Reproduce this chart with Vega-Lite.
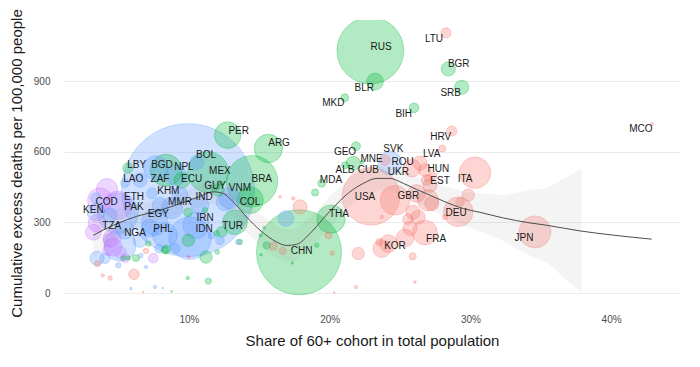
{
  "$schema": "https://vega.github.io/schema/vega-lite/v6.json",
  "width": 616,
  "height": 286,
  "autosize": {"type": "none"},
  "padding": {"left": 64, "top": 20, "right": 20, "bottom": 61},
  "config": {
    "font": "Liberation Sans",
    "view": {"stroke": null},
    "axis": {"domain": false, "ticks": false, "labelColor": "#4d4d4d", "labelFontSize": 10, "titleColor": "#1a1a1a", "titleFontSize": 15, "titleFontWeight": "normal", "gridColor": "#ebebeb", "gridWidth": 1}
  },
  "datasets": {
    "pts": [
      {"iso":"LTU","g":"H","x":28.27,"y":1105,"d":35,"lx":27.41,"ly":1081},
      {"iso":"HRV","g":"H","x":28.67,"y":688,"d":35,"lx":27.89,"ly":663},
      {"iso":"LVA","g":"H","x":28.0,"y":614,"d":17,"lx":27.25,"ly":589},
      {"iso":"MCO","g":"H","x":42.91,"y":718,"d":3,"lx":42.12,"ly":695},
      {"iso":"JPN","g":"H","x":34.59,"y":260,"d":342,"lx":33.81,"ly":234},
      {"iso":"ITA","g":"H","x":30.33,"y":511,"d":331,"lx":29.62,"ly":484},
      {"iso":"DEU","g":"H","x":29.14,"y":345,"d":294,"lx":28.98,"ly":340},
      {"iso":"FRA","g":"H","x":26.77,"y":257,"d":207,"lx":27.56,"ly":231},
      {"iso":"GBR","g":"H","x":24.64,"y":394,"d":294,"lx":25.59,"ly":413},
      {"iso":"USA","g":"H","x":22.94,"y":411,"d":1115,"lx":22.51,"ly":409},
      {"iso":"KOR","g":"H","x":24.17,"y":210,"d":106,"lx":24.64,"ly":200},
      {"iso":"EST","g":"H","x":26.99,"y":488,"d":17,"lx":27.84,"ly":475},
      {"iso":"HUN","g":"H","x":26.77,"y":522,"d":55,"lx":27.72,"ly":529},
      {"iso":"ROU","g":"H","x":25.85,"y":531,"d":106,"lx":25.19,"ly":557},
      {"iso":"SVK","g":"H","x":23.93,"y":565,"d":38,"lx":24.52,"ly":610},
      {"iso":"UKR","g":"LM","x":24.29,"y":552,"d":190,"lx":24.88,"ly":515},
      {"iso":"MNE","g":"UM","x":22.3,"y":556,"d":4,"lx":22.98,"ly":568},
      {"iso":"CUB","g":"UM","x":21.68,"y":551,"d":68,"lx":22.74,"ly":522},
      {"iso":"ALB","g":"UM","x":21.09,"y":543,"d":17,"lx":21.09,"ly":522},
      {"iso":"GEO","g":"UM","x":21.87,"y":624,"d":26,"lx":21.09,"ly":600},
      {"iso":"MDA","g":"UM","x":19.43,"y":466,"d":20,"lx":20.09,"ly":480},
      {"iso":"THA","g":"UM","x":20.09,"y":314,"d":270,"lx":20.66,"ly":335},
      {"iso":"BIH","g":"UM","x":25.99,"y":787,"d":32,"lx":25.26,"ly":762},
      {"iso":"SRB","g":"UM","x":29.38,"y":874,"d":68,"lx":28.6,"ly":849},
      {"iso":"BGR","g":"UM","x":28.43,"y":952,"d":68,"lx":29.17,"ly":972},
      {"iso":"MKD","g":"UM","x":21.07,"y":830,"d":21,"lx":20.26,"ly":806},
      {"iso":"BLR","g":"UM","x":23.22,"y":898,"d":95,"lx":22.46,"ly":870},
      {"iso":"RUS","g":"UM","x":22.89,"y":1030,"d":1500,"lx":23.65,"ly":1047},
      {"iso":"CHN","g":"UM","x":17.82,"y":173,"d":2432,"lx":18.01,"ly":179},
      {"iso":"PER","g":"UM","x":12.75,"y":671,"d":237,"lx":13.53,"ly":689},
      {"iso":"ARG","g":"UM","x":15.64,"y":614,"d":270,"lx":16.4,"ly":636},
      {"iso":"BRA","g":"UM","x":14.48,"y":475,"d":888,"lx":15.17,"ly":485},
      {"iso":"MEX","g":"UM","x":11.35,"y":514,"d":558,"lx":12.2,"ly":519},
      {"iso":"BOL","g":"LM","x":10.57,"y":556,"d":68,"lx":11.21,"ly":585},
      {"iso":"NPL","g":"LM","x":9.08,"y":501,"d":150,"lx":9.64,"ly":535},
      {"iso":"ZAF","g":"UM","x":8.37,"y":522,"d":342,"lx":7.94,"ly":484},
      {"iso":"BGD","g":"LM","x":7.65,"y":531,"d":207,"lx":8.08,"ly":543},
      {"iso":"ECU","g":"UM","x":9.5,"y":480,"d":85,"lx":10.19,"ly":484},
      {"iso":"LBY","g":"UM","x":5.66,"y":531,"d":38,"lx":6.28,"ly":543},
      {"iso":"LAO","g":"LM","x":5.45,"y":467,"d":26,"lx":6.04,"ly":484},
      {"iso":"KHM","g":"LM","x":7.37,"y":424,"d":38,"lx":8.53,"ly":434},
      {"iso":"GUY","g":"UM","x":12.2,"y":467,"d":7,"lx":11.85,"ly":454},
      {"iso":"VNM","g":"LM","x":12.91,"y":403,"d":152,"lx":13.62,"ly":446},
      {"iso":"IND","g":"LM","x":9.93,"y":437,"d":5936,"lx":11.07,"ly":409},
      {"iso":"COL","g":"UM","x":14.34,"y":394,"d":237,"lx":14.34,"ly":385},
      {"iso":"MMR","g":"LM","x":8.79,"y":360,"d":152,"lx":9.36,"ly":386},
      {"iso":"ETH","g":"L","x":4.95,"y":373,"d":270,"lx":6.09,"ly":409},
      {"iso":"PAK","g":"LM","x":4.95,"y":339,"d":558,"lx":6.09,"ly":366},
      {"iso":"COD","g":"L","x":3.67,"y":394,"d":207,"lx":4.15,"ly":387},
      {"iso":"KEN","g":"LM","x":3.39,"y":343,"d":106,"lx":3.2,"ly":352},
      {"iso":"EGY","g":"LM","x":7.58,"y":301,"d":237,"lx":7.82,"ly":334},
      {"iso":"TZA","g":"L","x":4.53,"y":233,"d":106,"lx":4.51,"ly":284},
      {"iso":"NGA","g":"LM","x":5.1,"y":203,"d":342,"lx":6.16,"ly":257},
      {"iso":"PHL","g":"LM","x":8.29,"y":246,"d":207,"lx":8.15,"ly":271},
      {"iso":"IRN","g":"LM","x":10.5,"y":288,"d":237,"lx":11.14,"ly":318},
      {"iso":"IDN","g":"LM","x":10.07,"y":233,"d":608,"lx":11.07,"ly":271},
      {"iso":"TUR","g":"UM","x":13.27,"y":301,"d":207,"lx":13.1,"ly":284},
      {"g":"UM","x":11.21,"y":153,"d":52},
      {"g":"UM","x":11.37,"y":51,"d":13},
      {"g":"UM","x":12.01,"y":174,"d":7},
      {"g":"UM","x":9.91,"y":64,"d":4},
      {"g":"UM","x":8.77,"y":7,"d":1},
      {"g":"UM","x":8.29,"y":182,"d":17},
      {"g":"UM","x":15.52,"y":203,"d":17},
      {"g":"UM","x":15.12,"y":163,"d":2.4},
      {"g":"UM","x":17.34,"y":128,"d":2.4},
      {"g":"UM","x":19.08,"y":203,"d":7},
      {"g":"UM","x":15.1,"y":245,"d":4},
      {"g":"UM","x":5.33,"y":149,"d":7},
      {"g":"UM","x":5.69,"y":149,"d":7},
      {"g":"UM","x":6.23,"y":149,"d":17},
      {"g":"UM","x":7.11,"y":210,"d":10},
      {"g":"UM","x":8.37,"y":185,"d":26},
      {"g":"UM","x":9.95,"y":224,"d":52},
      {"g":"UM","x":11.14,"y":352,"d":10},
      {"g":"UM","x":11.97,"y":253,"d":10},
      {"g":"UM","x":18.96,"y":427,"d":17},
      {"g":"UM","x":13.62,"y":217,"d":10},
      {"g":"UM","x":12.32,"y":260,"d":38},
      {"g":"UM","x":9.93,"y":343,"d":26},
      {"g":"UM","x":15.35,"y":278,"d":2.4},
      {"g":"UM","x":12.06,"y":437,"d":52},
      {"g":"LM","x":7.58,"y":26,"d":4},
      {"g":"LM","x":8.13,"y":21,"d":1},
      {"g":"LM","x":5.88,"y":19,"d":2.4},
      {"g":"LM","x":4.98,"y":118,"d":10},
      {"g":"LM","x":6.57,"y":159,"d":7},
      {"g":"LM","x":6.94,"y":111,"d":4},
      {"g":"LM","x":7.87,"y":189,"d":26},
      {"g":"LM","x":3.46,"y":148,"d":68},
      {"g":"LM","x":4.03,"y":148,"d":38},
      {"g":"LM","x":3.39,"y":403,"d":38},
      {"g":"LM","x":11.61,"y":245,"d":17},
      {"g":"LM","x":13.5,"y":217,"d":10},
      {"g":"LM","x":16.89,"y":317,"d":85},
      {"g":"LM","x":6.52,"y":224,"d":68},
      {"g":"LM","x":9.0,"y":190,"d":38},
      {"g":"LM","x":7.23,"y":275,"d":106},
      {"g":"LM","x":12.2,"y":224,"d":26},
      {"g":"LM","x":10.78,"y":373,"d":106},
      {"g":"LM","x":5.45,"y":267,"d":106},
      {"g":"LM","x":6.52,"y":480,"d":68},
      {"g":"LM","x":9.36,"y":416,"d":85},
      {"g":"LM","x":7.94,"y":373,"d":85},
      {"g":"LM","x":12.56,"y":387,"d":106},
      {"g":"LM","x":4.39,"y":331,"d":68},
      {"g":"L","x":4.17,"y":441,"d":152},
      {"g":"L","x":3.46,"y":297,"d":106},
      {"g":"L","x":4.39,"y":224,"d":68},
      {"g":"L","x":4.6,"y":195,"d":106},
      {"g":"L","x":5.1,"y":173,"d":52},
      {"g":"L","x":5.45,"y":148,"d":26},
      {"g":"L","x":3.2,"y":258,"d":85},
      {"g":"L","x":7.46,"y":148,"d":32},
      {"g":"L","x":9.95,"y":156,"d":2.4},
      {"g":"L","x":4.24,"y":182,"d":38},
      {"g":"H","x":26.42,"y":552,"d":68},
      {"g":"H","x":26.99,"y":394,"d":152},
      {"g":"H","x":26.18,"y":423,"d":106},
      {"g":"H","x":25.92,"y":343,"d":68},
      {"g":"H","x":26.28,"y":322,"d":68},
      {"g":"H","x":25.71,"y":275,"d":68},
      {"g":"H","x":25.56,"y":314,"d":38},
      {"g":"H","x":26.89,"y":480,"d":38},
      {"g":"H","x":27.13,"y":458,"d":68},
      {"g":"H","x":27.36,"y":497,"d":17},
      {"g":"H","x":29.85,"y":416,"d":52},
      {"g":"H","x":29.26,"y":387,"d":26},
      {"g":"H","x":28.19,"y":323,"d":10},
      {"g":"H","x":27.25,"y":380,"d":68},
      {"g":"H","x":23.7,"y":189,"d":106},
      {"g":"H","x":25.35,"y":234,"d":106},
      {"g":"H","x":22.03,"y":168,"d":52},
      {"g":"H","x":23.53,"y":217,"d":17},
      {"g":"H","x":25.9,"y":156,"d":17},
      {"g":"H","x":23.7,"y":323,"d":4},
      {"g":"H","x":21.87,"y":26,"d":4},
      {"g":"H","x":26.06,"y":47,"d":2.4},
      {"g":"H","x":17.89,"y":366,"d":68},
      {"g":"H","x":17.41,"y":402,"d":4},
      {"g":"H","x":16.47,"y":409,"d":2.4},
      {"g":"H","x":15.99,"y":199,"d":21},
      {"g":"H","x":16.66,"y":179,"d":17},
      {"g":"H","x":19.9,"y":246,"d":17},
      {"g":"H","x":20.19,"y":170,"d":7},
      {"g":"H","x":6.75,"y":4,"d":1},
      {"g":"H","x":20.33,"y":2,"d":1},
      {"g":"H","x":3.51,"y":125,"d":13},
      {"g":"H","x":3.87,"y":75,"d":4},
      {"g":"H","x":4.39,"y":64,"d":7},
      {"g":"H","x":6.09,"y":80,"d":38},
      {"g":"H","x":6.94,"y":179,"d":10},
      {"g":"H","x":10.0,"y":153,"d":2.4}
    ],
    "fit": [
      {"x":3.2,"fit":245.5},{"x":4.62,"fit":288},{"x":6.28,"fit":326},{"x":7.94,"fit":352},
      {"x":9.36,"fit":380},{"x":10.78,"fit":411},{"x":11.73,"fit":430},{"x":12.44,"fit":423},
      {"x":13.15,"fit":387},{"x":14.1,"fit":323},{"x":15.05,"fit":267},{"x":16.23,"fit":217},
      {"x":16.94,"fit":202},{"x":17.65,"fit":207},{"x":18.6,"fit":253},{"x":19.55,"fit":317},
      {"x":20.02,"fit":348},{"x":21.44,"fit":430},{"x":22.39,"fit":466},{"x":23.34,"fit":487},
      {"x":24.29,"fit":487},{"x":25.23,"fit":466},{"x":26.18,"fit":440},{"x":27.13,"fit":416},
      {"x":28.07,"fit":391},{"x":29.5,"fit":359},{"x":30.68,"fit":343},{"x":32.34,"fit":319},
      {"x":34.24,"fit":298},{"x":35.42,"fit":288},{"x":37.79,"fit":264},{"x":40.16,"fit":246},
      {"x":42.88,"fit":229}
    ],
    "band": [
      {"x":3.2,"lo":152,"hi":339},{"x":4.62,"lo":220,"hi":356},{"x":6.28,"lo":275,"hi":377},
      {"x":7.94,"lo":309,"hi":395},{"x":9.36,"lo":337,"hi":423},{"x":10.78,"lo":364,"hi":458},
      {"x":11.73,"lo":379,"hi":481},{"x":12.44,"lo":368,"hi":478},{"x":13.15,"lo":327,"hi":447},
      {"x":14.1,"lo":259,"hi":387},{"x":15.05,"lo":199,"hi":335},{"x":16.23,"lo":149,"hi":285},
      {"x":16.94,"lo":134,"hi":270},{"x":17.65,"lo":139,"hi":275},{"x":18.6,"lo":185,"hi":321},
      {"x":19.55,"lo":253,"hi":381},{"x":20.02,"lo":284,"hi":412},{"x":21.44,"lo":370,"hi":490},
      {"x":22.39,"lo":411,"hi":521},{"x":23.34,"lo":436,"hi":538},{"x":24.29,"lo":436,"hi":538},
      {"x":25.23,"lo":415,"hi":517},{"x":26.18,"lo":385,"hi":495},{"x":27.13,"lo":356,"hi":476},
      {"x":28.07,"lo":327,"hi":455},{"x":29.5,"lo":287,"hi":431},{"x":30.68,"lo":262,"hi":424},
      {"x":32.34,"lo":221,"hi":417},{"x":34.24,"lo":158,"hi":438},{"x":35.42,"lo":131,"hi":445},
      {"x":36.6,"lo":68,"hi":484},{"x":37.91,"lo":0,"hi":530}
    ]
  },
  "layer": [
    {
      "data": {"name": "pts"},
      "mark": {"type": "circle", "fillOpacity": 0.3, "strokeOpacity": 0.4, "strokeWidth": 0.8, "clip": true},
      "encoding": {
        "x": {"field": "x", "type": "quantitative", "title": "Share of 60+ cohort in total population",
          "scale": {"domain": [1.116, 44.897], "nice": false, "zero": false},
          "axis": {"values": [10, 20, 30, 40], "labelExpr": "datum.value + '%'", "grid": false, "labelPadding": 8, "titlePadding": 9}},
        "y": {"field": "y", "type": "quantitative", "title": "Cumulative excess deaths per 100,000 people",
          "scale": {"domain": [-55, 1160], "nice": false, "zero": false},
          "axis": {"values": [0, 300, 600, 900], "grid": true, "labelPadding": 14, "titlePadding": 9}},
        "size": {"field": "d", "type": "quantitative", "scale": {"domain": [0, 6000], "range": [0, 17860], "zero": true}, "legend": null},
        "fill": {"field": "g", "type": "nominal", "scale": {"domain": ["H", "UM", "LM", "L"], "range": ["#F8766D", "#00BA38", "#619CFF", "#C77CFF"]}, "legend": null},
        "stroke": {"field": "g", "type": "nominal", "scale": {"domain": ["H", "UM", "LM", "L"], "range": ["#F8766D", "#00BA38", "#619CFF", "#C77CFF"]}, "legend": null},
        "order": {"field": "d", "type": "quantitative", "sort": "descending"}
      }
    },
    {
      "data": {"name": "band"},
      "mark": {"type": "area", "color": "#999999", "opacity": 0.11, "clip": true},
      "encoding": {
        "x": {"field": "x", "type": "quantitative", "title": "Share of 60+ cohort in total population"},
        "y": {"field": "lo", "type": "quantitative", "title": "Cumulative excess deaths per 100,000 people"},
        "y2": {"field": "hi"}
      }
    },
    {
      "data": {"name": "fit"},
      "mark": {"type": "line", "color": "#4d4d4d", "strokeWidth": 1, "interpolate": "monotone", "clip": true},
      "encoding": {
        "x": {"field": "x", "type": "quantitative", "title": "Share of 60+ cohort in total population"},
        "y": {"field": "fit", "type": "quantitative", "title": "Cumulative excess deaths per 100,000 people"}
      }
    },
    {
      "data": {"name": "pts"},
      "transform": [{"filter": "isValid(datum.lx)"}],
      "mark": {"type": "text", "fontSize": 10, "color": "#1a1a1a", "align": "center", "baseline": "middle"},
      "encoding": {
        "x": {"field": "lx", "type": "quantitative", "title": "Share of 60+ cohort in total population"},
        "y": {"field": "ly", "type": "quantitative", "title": "Cumulative excess deaths per 100,000 people"},
        "text": {"field": "iso", "type": "nominal"}
      }
    }
  ]
}
